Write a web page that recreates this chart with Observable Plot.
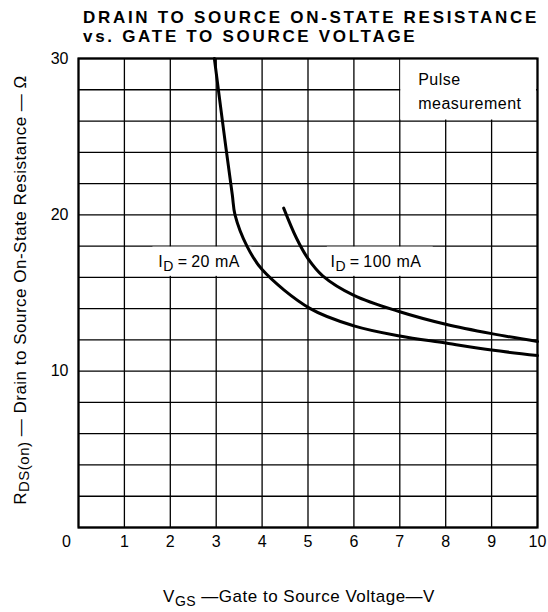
<!DOCTYPE html>
<html>
<head>
<meta charset="utf-8">
<script src="https://cdn.jsdelivr.net/npm/d3@7"></script>
<script src="https://cdn.jsdelivr.net/npm/@observablehq/plot@0.6"></script>
<style>
  body { margin: 0; background: white; font-family: "Liberation Sans", Arial, sans-serif; }
  #title { height: 44px; box-sizing: border-box; padding: 8px 0 0 83px; font-size: 17px; line-height: 19px; font-weight: bold; letter-spacing: 2.7px; color: #000; white-space: nowrap; }
  #chart svg { display: block; }
</style>
</head>
<body>
<div id="title">DRAIN TO SOURCE ON-STATE RESISTANCE<br>vs. GATE TO SOURCE VOLTAGE</div>
<div id="chart"></div>
<script>
// ---- data ----
const xTicks = [1, 2, 3, 4, 5, 6, 7, 8, 9, 10];
const yTicks = [10, 20, 30];
const xGrid = [0, 1, 2, 3, 4, 5, 6, 7, 8, 9, 10];
const yGrid = [0, 2, 4, 6, 8, 10, 12, 14, 16, 18, 20, 22, 24, 26, 28, 30];

const vgs20 = [2.96, 3.18, 3.35, 3.41, 3.67, 4.0, 5.05, 6.0, 7.0, 8.0, 9.0, 10.0];
const rds20 = [30, 25.0, 21.3, 20.0, 18.0, 16.5, 14.0, 12.9, 12.25, 11.8, 11.35, 11.0];

const vgs100 = [4.47, 4.75, 5.0, 5.32, 6.0, 7.0, 8.0, 9.0, 10.0];
const rds100 = [20.43, 18.5, 17.2, 16.1, 14.85, 13.8, 13.0, 12.4, 11.9];

const curveLabels = ["ID=20 mA", "ID=100 mA"];
const noteText = "Pulse\nmeasurement";
const xLabel = "VGS—Gate to Source Voltage—V";
const yLabel = "RDS(on)—Drain to Source On-State Resistance—Ω";

const d20 = vgs20.map((v, i) => ({x: v, y: rds20[i]}));
const d100 = vgs100.map((v, i) => ({x: v, y: rds100[i]}));

const chart = Plot.plot({
  width: 548,
  height: 568,
  marginTop: 14,
  marginBottom: 85,
  marginLeft: 78,
  marginRight: 11,
  x: {domain: [0, 10], axis: null},
  y: {domain: [0, 30], axis: null},
  style: {fontFamily: "'Liberation Sans', Arial, sans-serif", fontSize: "15px", color: "black", background: "white"},
  marks: [
    Plot.ruleX(xGrid, {x: d => d, stroke: "black", strokeWidth: 1.3}),
    Plot.ruleY(yGrid, {y: d => d, stroke: "black", strokeWidth: 1.3}),
    // white note box and label backgrounds
    Plot.rect([noteText], {x1: 7, x2: 10, y1: 26, y2: 30, fill: "white", inset: 1}),
    Plot.rect([curveLabels[0]], {x1: 1.6, x2: 3.8, y1: 16, y2: 18, fill: "white", inset: 1}),
    Plot.rect([curveLabels[1]], {x1: 5.4, x2: 7.75, y1: 16, y2: 18, fill: "white", inset: 1}),
    Plot.line(d20, {x: "x", y: "y", stroke: "black", strokeWidth: 3, curve: "catmull-rom"}),
    Plot.line(d100, {x: "x", y: "y", stroke: "black", strokeWidth: 3, curve: "catmull-rom"}),
    Plot.text([curveLabels[0]], {x: 1.74, y: 17.0, text: d => d, textAnchor: "start", fontSize: 16, className: "clabel"}),
    Plot.text([curveLabels[1]], {x: 5.49, y: 17.0, text: d => d, textAnchor: "start", fontSize: 16, className: "clabel"}),
    Plot.text([noteText], {x: 7.4, y: 28.05, text: d => d, textAnchor: "start", lineHeight: 1.55, fontSize: 16, className: "note"}),
    // tick labels
    Plot.text(xTicks, {x: d => d, text: d => String(d), frameAnchor: "bottom", dy: 19, fontSize: 16}),
    Plot.text([0], {x: d => d, text: d => String(d), frameAnchor: "bottom", dx: -12, dy: 19, fontSize: 16}),
    Plot.text(yTicks, {y: d => d, text: d => String(d), frameAnchor: "left", textAnchor: "end", dx: -10, fontSize: 16}),
    // axis titles
    Plot.text([xLabel], {text: d => d, frameAnchor: "bottom", textAnchor: "middle", dx: -9, dy: 74, fontSize: 17, className: "xlab"}),
    Plot.text([yLabel], {text: d => d, frameAnchor: "left", textAnchor: "middle", rotate: -90, dx: -58, dy: -3, fontSize: 17, className: "ylab"}),
    Plot.frame({stroke: "black", strokeWidth: 2.2})
  ]
});
document.getElementById("chart").appendChild(chart);

// subscripts
const subs = {
  "ID=20 mA": 'I<tspan dy="4" font-size="14">D</tspan><tspan dy="-4">\u2009=\u200920 mA</tspan>',
  "ID=100 mA": 'I<tspan dy="4" font-size="14">D</tspan><tspan dy="-4">\u2009=\u2009100 mA</tspan>',
  [xLabel]: 'V<tspan dy="4" font-size="14">GS</tspan><tspan dy="-4"> —Gate to Source Voltage—V</tspan>',
  [yLabel]: 'R<tspan dy="3" font-size="15">DS(on)</tspan><tspan dy="-3"> — Drain to Source On-State Resistance — Ω</tspan>'
};
chart.querySelectorAll("text").forEach(t => {
  const s = t.textContent;
  if (subs[s]) t.innerHTML = subs[s];
});
chart.querySelectorAll(".xlab text, .ylab text, .clabel text, .note text").forEach(t => t.setAttribute("letter-spacing", "0.5"));
</script>
</body>
</html>
